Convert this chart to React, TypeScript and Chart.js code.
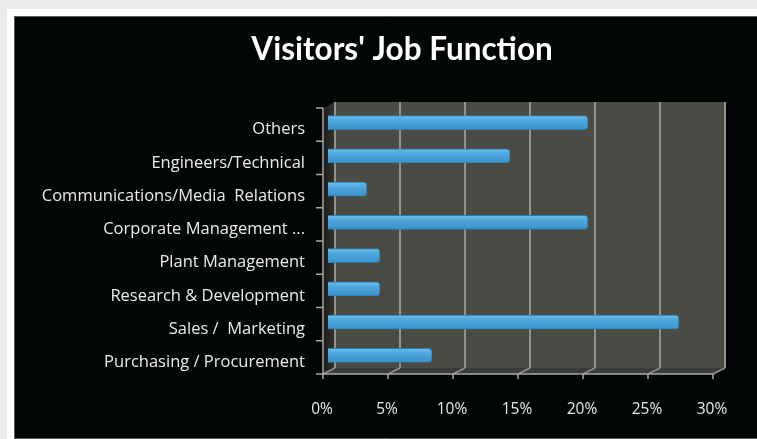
import React, { useEffect, useRef } from "react";
import { Chart, registerables } from "chart.js";

Chart.register(...registerables);

const TITLE = "Visitors' Job Function";
const categories = [
  "Others",
  "Engineers/Technical",
  "Communications/Media  Relations",
  "Corporate Management ...",
  "Plant Management",
  "Research & Development",
  "Sales /  Marketing",
  "Purchasing / Procurement",
];
const shares = [20, 14, 3, 20, 4, 4, 27, 8];
const xTicks = [0, 5, 10, 15, 20, 25, 30];

const W = 757;
const H = 439;
const DXB = 7, DYB = -4; // back plane offset
const DXF = -5, DYF = 2; // front plane offset

const framePlugin = {
  id: "frame3d",
  beforeDraw(chart: any) {
    const { ctx, chartArea: a, scales } = chart;
    const x = scales.x, y = scales.y;
    ctx.save();
    ctx.fillStyle = "#ececec";
    ctx.fillRect(0, 0, W, H);
    ctx.fillStyle = "#ffffff";
    ctx.fillRect(7, 9, W - 7, H - 9);
    ctx.fillStyle = "#020505";
    ctx.fillRect(14, 16, W - 14, 422);
    ctx.strokeStyle = "#5a5a5a";
    ctx.lineWidth = 1;
    ctx.beginPath();
    ctx.moveTo(14.5, H);
    ctx.lineTo(14.5, 16.5);
    ctx.lineTo(W, 16.5);
    ctx.moveTo(14, 438.5);
    ctx.lineTo(W, 438.5);
    ctx.stroke();

    const bl = a.left + DXB, bt = a.top + DYB, br = a.right + DXB, bb = a.bottom + DYB;
    const fl = a.left + DXF, ft = a.top + DYF, fr = a.right + DXF, fb = a.bottom + DYF;

    // back wall
    ctx.fillStyle = "#4b4b45";
    ctx.fillRect(bl, bt, br - bl, bb - bt);
    // left wall
    const g = ctx.createLinearGradient(fl, 0, bl, 0);
    g.addColorStop(0, "#1c1c1a");
    g.addColorStop(1, "#35352f");
    ctx.fillStyle = g;
    ctx.beginPath();
    ctx.moveTo(fl, ft);
    ctx.lineTo(bl, bt);
    ctx.lineTo(bl, bb);
    ctx.lineTo(fl, fb);
    ctx.closePath();
    ctx.fill();
    // floor
    ctx.fillStyle = "#3b3b37";
    ctx.beginPath();
    ctx.moveTo(fl, fb);
    ctx.lineTo(fr, fb);
    ctx.lineTo(br, bb);
    ctx.lineTo(bl, bb);
    ctx.closePath();
    ctx.fill();

    // grid lines
    ctx.strokeStyle = "#929290";
    xTicks.forEach((v) => {
      const px = x.getPixelForValue(v);
      ctx.lineWidth = 2;
      ctx.beginPath();
      ctx.moveTo(px + DXB, bt);
      ctx.lineTo(px + DXB, bb);
      ctx.stroke();
      ctx.lineWidth = 1.5;
      ctx.beginPath();
      ctx.moveTo(px + DXB, bb);
      ctx.lineTo(px + DXF, fb);
      ctx.stroke();
    });

    // front axes
    ctx.strokeStyle = "#a8a8a8";
    ctx.lineWidth = 1.5;
    ctx.beginPath();
    ctx.moveTo(fl, fb);
    ctx.lineTo(fr, fb);
    xTicks.forEach((v) => {
      const px = x.getPixelForValue(v) + DXF;
      ctx.moveTo(px, fb);
      ctx.lineTo(px, fb + 5);
    });
    ctx.moveTo(fl, ft);
    ctx.lineTo(fl, fb);
    const n = categories.length;
    for (let i = 0; i <= n; i++) {
      let py;
      if (i === 0) py = a.top;
      else if (i === n) py = a.bottom;
      else py = (y.getPixelForValue(i - 1) + y.getPixelForValue(i)) / 2;
      ctx.moveTo(fl - 7, py + DYF);
      ctx.lineTo(fl, py + DYF);
    }
    ctx.stroke();

    // title
    ctx.fillStyle = "#ffffff";
    ctx.font = "bold 31.5px Lato";
    ctx.textAlign = "center";
    ctx.textBaseline = "alphabetic";
    ctx.fillText(TITLE, 402, 60);
    ctx.restore();
  },
};

function barFill(context: any) {
  const chart = context.chart;
  const y = chart.scales && chart.scales.y;
  if (!chart.chartArea || !y) return "#4aa3d8";
  const cy = y.getPixelForValue(context.dataIndex);
  const g = chart.ctx.createLinearGradient(0, cy - 7, 0, cy + 7);
  g.addColorStop(0, "#6cbdea");
  g.addColorStop(0.35, "#4ea8dc");
  g.addColorStop(1, "#3b92c8");
  return g;
}

export default function App() {
  const ref = useRef<HTMLCanvasElement | null>(null);
  useEffect(() => {
    document.body.style.margin = "0";
    const canvas = ref.current;
    if (!canvas) return;
    const chart = new Chart(canvas, {
      type: "bar",
      data: {
        labels: categories,
        datasets: [
          {
            data: shares,
            backgroundColor: barFill as any,
            borderColor: "#2d7db3",
            borderWidth: 1,
            borderRadius: 4,
            barThickness: 14,
          },
        ],
      },
      options: {
        indexAxis: "y",
        responsive: false,
        animation: false,
        layout: { padding: { left: 20, right: 39, top: 106, bottom: 0 } },
        plugins: {
          legend: { display: false },
          tooltip: { enabled: false },
          title: { display: false },
        },
        scales: {
          x: {
            min: 0,
            max: 30,
            grid: { display: false, drawTicks: false },
            border: { display: false },
            ticks: {
              stepSize: 5,
              callback: (v: any) => v + "%",
              color: "#e8e8e8",
              font: { family: "Open Sans", size: 15.5 },
              padding: 28,
              labelOffset: -6,
            },
            afterFit: (s: any) => {
              s.height = 67;
              s.paddingLeft = 0;
              s.paddingRight = 0;
            },
          },
          y: {
            grid: { display: false, drawTicks: false },
            border: { display: false },
            ticks: {
              autoSkip: false,
              color: "#ececec",
              font: { family: "Open Sans", size: 16.5 },
              padding: 23,
              labelOffset: 7,
            },
            afterFit: (s: any) => {
              s.width = 308;
              s.paddingTop = 0;
              s.paddingBottom = 0;
            },
          },
        },
      },
      plugins: [framePlugin],
    });
    return () => chart.destroy();
  }, []);
  return (
    <div style={{ position: "absolute", left: 0, top: 0, width: W, height: H }}>
      <canvas ref={ref} width={W} height={H} style={{ display: "block" }} />
    </div>
  );
}
